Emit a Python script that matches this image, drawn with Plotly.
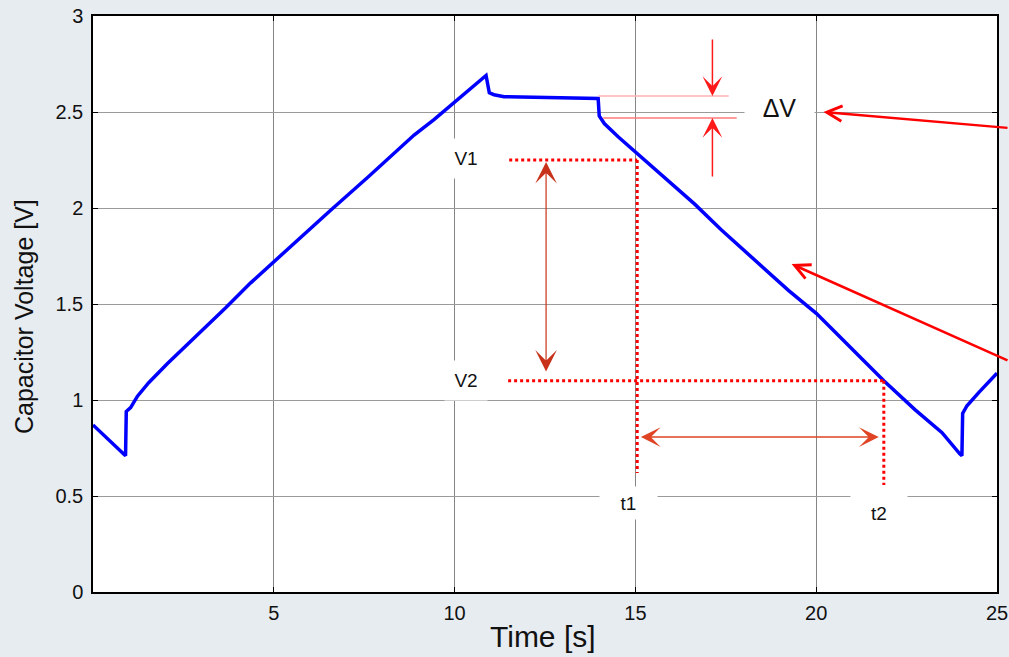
import plotly.graph_objects as go

# Capacitor voltage trace (time in s, voltage in V)
time_s = [0.0, 0.45, 0.90, 0.92, 1.04, 1.23, 1.54, 2.06, 2.51, 2.89, 3.67, 4.36,
          5.00, 5.42, 6.58, 7.60, 8.24, 8.88, 9.43, 9.99, 10.46, 10.73, 10.87,
          10.96, 11.09, 11.37, 13.50, 13.97, 14.00, 14.14, 14.53, 15.08, 15.80,
          16.64, 17.38, 18.30, 19.24, 20.01, 20.90, 21.87, 22.73, 23.48, 23.97,
          24.03, 24.05, 24.17, 24.50, 25.00]
voltage_v = [0.87, 0.79, 0.71, 0.94, 0.96, 1.02, 1.09, 1.19, 1.27, 1.34, 1.48, 1.61,
             1.72, 1.79, 1.99, 2.16, 2.27, 2.38, 2.46, 2.55, 2.625, 2.667, 2.69,
             2.60, 2.59, 2.58, 2.575, 2.57, 2.48, 2.44, 2.37, 2.28, 2.16,
             2.02, 1.885, 1.73, 1.57, 1.45, 1.28, 1.10, 0.95, 0.83, 0.72,
             0.71, 0.93, 0.97, 1.04, 1.14]

# Reading levels used for the slope construction
v1_level = 2.25
v2_level = 1.10
t1_time = 15.05
t2_time = 21.87
dv_upper = 2.583
dv_lower = 2.469

x_ticks = [0, 5, 10, 15, 20, 25]
x_tick_text = ["", "5", "10", "15", "20", "25"]
y_ticks = [0, 0.5, 1, 1.5, 2, 2.5, 3]
y_tick_text = ["0", "0.5", "1", "1.5", "2", "2.5", "3"]

FONT = "Liberation Sans, Arial, sans-serif"
RED = "#ff0000"

fig = go.Figure()
fig.add_trace(go.Scatter(x=time_s, y=voltage_v, mode="lines",
                         line=dict(color="#0000ff", width=3.5),
                         hoverinfo="skip", showlegend=False))

dot = dict(color=RED, width=3, dash="dot")
shapes = [
    # V1 / t1 construction
    dict(type="line", xref="x", yref="y", x0=11.51, x1=t1_time, y0=v1_level, y1=v1_level, line=dot),
    dict(type="line", xref="x", yref="y", x0=t1_time, x1=t1_time, y0=v1_level, y1=0.62, line=dot),
    # V2 / t2 construction
    dict(type="line", xref="x", yref="y", x0=11.48, x1=t2_time, y0=v2_level, y1=v2_level, line=dot),
    dict(type="line", xref="x", yref="y", x0=t2_time, x1=t2_time, y0=v2_level, y1=0.557, line=dot),
    # ΔV reference lines
    dict(type="line", xref="x", yref="y", x0=13.98, x1=17.58, y0=dv_upper, y1=dv_upper,
         line=dict(color="#ffb0b0", width=1.5)),
    dict(type="line", xref="x", yref="y", x0=14.11, x1=17.80, y0=dv_lower, y1=dv_lower,
         line=dict(color="#ff7a7a", width=1.5)),
]

annotations = []

def label(text, x, y, size, w, h, yshift=0):
    annotations.append(dict(x=x, y=y, xref="x", yref="y", text=text, showarrow=False,
                            font=dict(family=FONT, size=size, color="#111111"),
                            bgcolor="white", width=w, height=h, yshift=yshift))

label("ΔV", 18.99, 2.52, 25, 67, 42)
label("V1", 10.32, 2.245, 19, 40, 37, yshift=2)
label("V2", 10.32, 1.099, 19, 40, 37)
label("t1", 14.81, 0.464, 19, 55, 30)
label("t2", 21.73, 0.40, 19, 54, 44, yshift=2)

# ΔV small arrows
annotations.append(dict(x=17.13, y=dv_upper, xref="x", yref="y", ax=0, ay=-58, text="",
                        showarrow=True, arrowhead=3, arrowsize=2.2, arrowwidth=1.5,
                        arrowcolor="#ff1a1a", standoff=0))
annotations.append(dict(x=17.13, y=dv_lower, xref="x", yref="y", ax=0, ay=60, text="",
                        showarrow=True, arrowhead=3, arrowsize=2.2, arrowwidth=1.5,
                        arrowcolor="#ff1a1a", standoff=0))
# V1-V2 span
annotations.append(dict(x=12.53, y=2.24, xref="x", yref="y", ax=12.53, ay=1.14,
                        axref="x", ayref="y", text="", showarrow=True,
                        arrowside="end+start", arrowhead=3, startarrowhead=3,
                        arrowsize=3, startarrowsize=3, arrowwidth=1.2,
                        arrowcolor="#c8321a", standoff=0, startstandoff=0))
# t1-t2 span
annotations.append(dict(x=21.73, y=0.807, xref="x", yref="y", ax=15.11, ay=0.807,
                        axref="x", ayref="y", text="", showarrow=True,
                        arrowside="end+start", arrowhead=3, startarrowhead=3,
                        arrowsize=2.2, startarrowsize=2.2, arrowwidth=1.5,
                        arrowcolor="#e04424", standoff=0, startstandoff=0))
# Pointers coming in from the right
annotations.append(dict(x=20.2, y=2.5, xref="x", yref="y", ax=195, ay=16, text="",
                        showarrow=True, arrowhead=5, arrowsize=1.2, arrowwidth=2.5,
                        arrowcolor=RED, standoff=0))
annotations.append(dict(x=19.32, y=1.708, xref="x", yref="y", ax=230, ay=97, text="",
                        showarrow=True, arrowhead=5, arrowsize=1.2, arrowwidth=2.5,
                        arrowcolor=RED, standoff=0))

# Axis titles
annotations.append(dict(x=0.498, y=-0.078, xref="paper", yref="paper", text="Time [s]",
                        showarrow=False, font=dict(family=FONT, size=30, color="#111111"),
                        xanchor="center", yanchor="middle"))
annotations.append(dict(x=-0.077, y=0.478, xref="paper", yref="paper",
                        text="Capacitor Voltage [V]", textangle=-90, showarrow=False,
                        font=dict(family=FONT, size=25, color="#111111"),
                        xanchor="center", yanchor="middle"))

fig.update_layout(
    width=1009, height=657,
    margin=dict(l=93, r=12, t=16, b=65),
    paper_bgcolor="#e7ecf1",
    plot_bgcolor="white",
    shapes=shapes,
    annotations=annotations,
    font=dict(family=FONT, size=20, color="#111111"),
    xaxis=dict(range=[0, 25], tickvals=x_ticks, ticktext=x_tick_text,
               showgrid=True, gridcolor="#858585", gridwidth=0.8,
               showline=True, linecolor="black", linewidth=1.5, mirror="ticks",
               ticks="inside", ticklen=5, tickcolor="black",
               ticklabelstandoff=2, zeroline=False, automargin=False,
               tickfont=dict(family=FONT, size=20, color="#111111")),
    yaxis=dict(range=[0, 3], tickvals=y_ticks, ticktext=y_tick_text,
               showgrid=True, gridcolor="#9a9a9a", gridwidth=1.2,
               showline=True, linecolor="black", linewidth=1.5, mirror="ticks",
               ticks="inside", ticklen=5, tickcolor="black",
               ticklabelstandoff=4, zeroline=False, automargin=False,
               tickfont=dict(family=FONT, size=20, color="#111111")),
)

fig.write_html("out.html")
